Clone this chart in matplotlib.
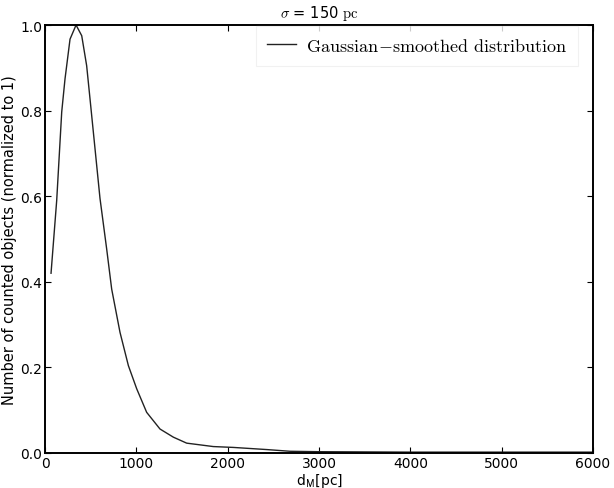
import matplotlib
matplotlib.use("Agg")
import matplotlib.pyplot as plt

# Data
d_pc = [66, 128, 183, 219, 274, 340, 402, 456, 493, 548, 602, 675, 730, 821, 913,
        1004, 1113, 1259, 1405, 1551, 1843, 2062, 2428, 2683, 3000, 4000, 5000, 6000]
counts = [0.42, 0.59, 0.797, 0.874, 0.967, 1.0, 0.975, 0.905, 0.827, 0.71, 0.595, 0.477,
          0.383, 0.282, 0.204, 0.150, 0.095, 0.056, 0.037, 0.023, 0.015, 0.013, 0.008,
          0.004, 0.003, 0.002, 0.002, 0.002]
xticks = [0, 1000, 2000, 3000, 4000, 5000, 6000]
yticks = [0.0, 0.2, 0.4, 0.6, 0.8, 1.0]

plt.rcParams['xtick.direction'] = 'in'
plt.rcParams['ytick.direction'] = 'in'
plt.rcParams['mathtext.fontset'] = 'cm'

fig = plt.figure(figsize=(6.14, 4.89), dpi=100)
ax = fig.add_axes([0.0733, 0.0716, 0.8925, 0.8752])
ax.plot(d_pc, counts, color='#222222', lw=1.0,
        label=r'$\mathrm{Gaussian\!-\!smoothed\ distribution}$')
ax.set_xlim(0, 6000)
ax.set_ylim(0, 1.0)
ax.set_xticks(xticks)
ax.set_yticks(yticks)
ax.set_xticklabels([str(t) for t in xticks])
ax.set_yticklabels([f"{t:.1f}" for t in yticks])
ax.tick_params(labelsize=10, length=4, top=True, right=True, pad=2)
for s in ax.spines.values():
    s.set_linewidth(1.4)
ax.set_xlabel(r'd$_{\mathsf{M}}$[pc]', fontsize=10, labelpad=1)
ax.set_ylabel('Number of counted objects (normalized to 1)', fontsize=10.5, labelpad=2)
ax.set_title(r'$\sigma$ = 150 $\mathrm{pc}$', fontsize=10.5, pad=6)
leg = ax.legend(loc='upper right', bbox_to_anchor=(0.975, 1.0), prop={'size': 13},
                frameon=True, fancybox=False, borderaxespad=0.05, borderpad=0.6,
                handlelength=1.6, handletextpad=0.6)
leg.get_frame().set_edgecolor('#eeeeee')
leg.get_frame().set_linewidth(0.8)
fig.savefig('out.png', dpi=100)
